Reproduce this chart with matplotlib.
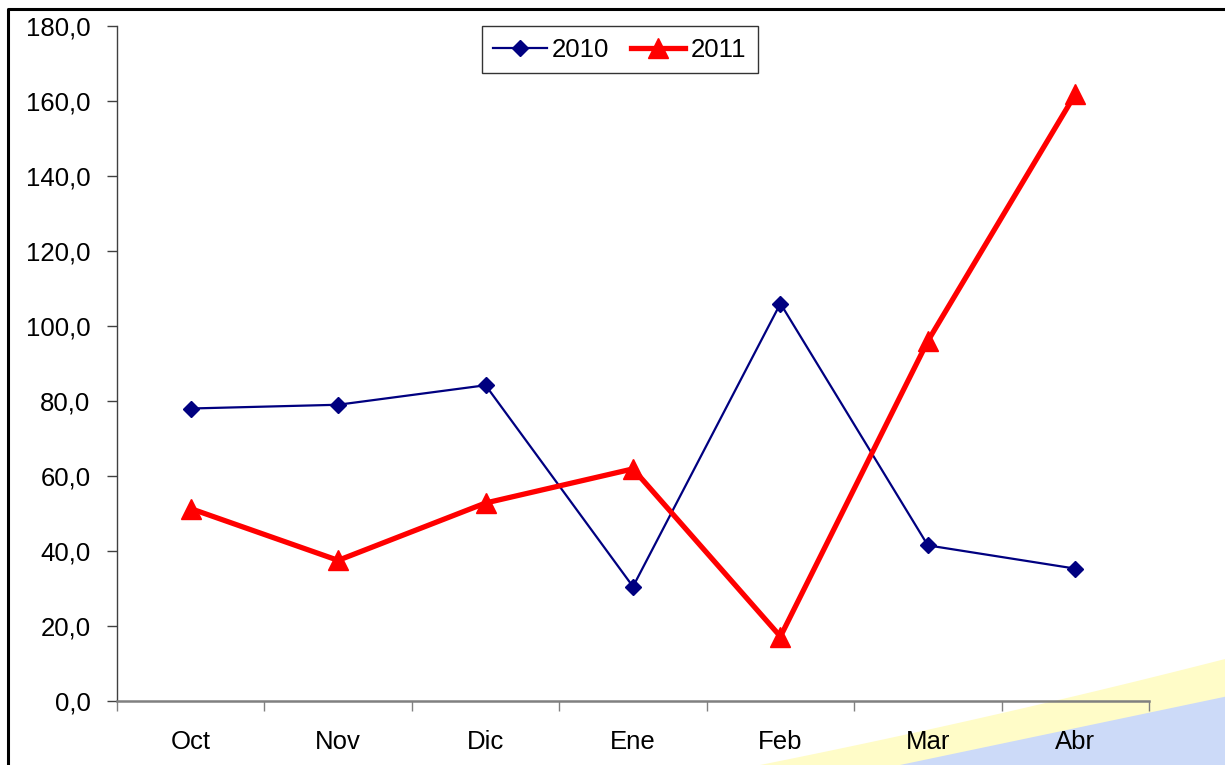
import matplotlib.pyplot as plt
import matplotlib.ticker as mticker
import numpy as np
from matplotlib.patches import Polygon

plt.rcParams["font.family"] = ["Liberation Sans", "DejaVu Sans"]

MONTHS = ["Oct", "Nov", "Dic", "Ene", "Feb", "Mar", "Abr"]
VALS_2010 = [78.0, 79.0, 84.2, 30.5, 106.0, 41.5, 35.3]
VALS_2011 = [51.3, 37.5, 52.8, 61.9, 17.2, 96.0, 161.8]

fig = plt.figure(figsize=(12.25, 7.65), dpi=100)

# --- slide background swoosh (decoration) -----------------------------------
bg = fig.add_axes([0, 0, 1, 1], zorder=-1)
bg.set_xlim(0, 1225)
bg.set_ylim(765, 0)
bg.axis("off")
xy = np.linspace(760, 1225, 50)
yellow_top = 765 - (xy - 760) * 0.2 - (xy - 760) ** 2 * 0.00006
bg.add_patch(Polygon(np.column_stack([np.r_[xy, 1225, 760], np.r_[yellow_top, 765, 765]]),
                     closed=True, color="#fffcc8", lw=0))
xb = np.linspace(900, 1225, 50)
blue_top = 765 - (xb - 900) * 0.21
bg.add_patch(Polygon(np.column_stack([np.r_[xb, 1225, 900], np.r_[blue_top, 765, 765]]),
                     closed=True, color="#ccdaf8", lw=0))
# slide frame (left and top edges)
bg.plot([8, 8, 1225], [765, 9, 9], color="black", lw=2.2, solid_capstyle="butt")

# --- chart ------------------------------------------------------------------
ax = fig.add_axes([117 / 1225, 1 - 701 / 765, (1149 - 117) / 1225, (701 - 26) / 765])
ax.patch.set_alpha(0)
x = np.arange(len(MONTHS))

ax.plot(x, VALS_2010, color="#000080", lw=1.6, marker="D", ms=8.5,
        label="2010", clip_on=False)
ax.plot(x, VALS_2011, color="#ff0000", lw=3.8, marker="^", ms=15,
        label="2011", clip_on=False)

ax.set_xlim(-0.5, len(MONTHS) - 0.5)
ax.set_ylim(0, 180)
ax.yaxis.set_major_locator(mticker.MultipleLocator(20))
ax.yaxis.set_major_formatter(mticker.FuncFormatter(lambda v, p: f"{v:.1f}".replace(".", ",")))

ax.set_xticks(x)
ax.set_xticklabels(MONTHS)
ax.set_xticks(np.arange(-0.5, len(MONTHS)), minor=True)
ax.tick_params(axis="x", which="major", length=0, pad=21, labelsize=18.5)
ax.tick_params(axis="x", which="minor", length=7, width=1, color="#808080", direction="out")
ax.tick_params(axis="y", length=7, width=1, color="#404040", direction="out",
               labelsize=18.5, pad=12)

for side in ["top", "right"]:
    ax.spines[side].set_visible(False)
ax.spines["left"].set_color("#404040")
ax.spines["left"].set_linewidth(1)
ax.spines["bottom"].set_color("#808080")
ax.spines["bottom"].set_linewidth(1.8)

leg = ax.legend(loc="upper center", bbox_to_anchor=(0.487, 1.0), ncol=2,
                fontsize=18.5, frameon=True, fancybox=False, handlelength=2.1,
                columnspacing=0.85, handletextpad=0.2, borderpad=0.45,
                borderaxespad=0)
leg.get_frame().set_edgecolor("black")
leg.get_frame().set_linewidth(1)

fig.savefig("out.png", dpi=100)
